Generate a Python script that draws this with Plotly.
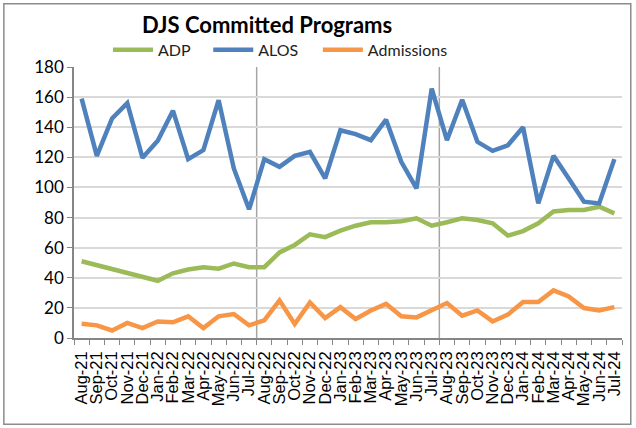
import plotly.graph_objects as go

months = ["Aug-21","Sep-21","Oct-21","Nov-21","Dec-21","Jan-22","Feb-22","Mar-22","Apr-22","May-22","Jun-22","Jul-22",
          "Aug-22","Sep-22","Oct-22","Nov-22","Dec-22","Jan-23","Feb-23","Mar-23","Apr-23","May-23","Jun-23","Jul-23",
          "Aug-23","Sep-23","Oct-23","Nov-23","Dec-23","Jan-24","Feb-24","Mar-24","Apr-24","May-24","Jun-24","Jul-24"]

adp = [51, 48.5, 46, 43, 40.5, 38, 43, 45.5, 47, 46, 49.5, 47,
       47, 56.8, 61.8, 68.9, 67, 71.3, 74.6, 76.9, 76.9, 77.5, 79.5, 74.6,
       76.9, 79.5, 78.4, 76.2, 68, 71, 76.2, 84, 85, 85, 87.2, 82.8]

alos = [159, 121, 145.8, 156, 119.7, 131, 151, 118.8, 124.8, 158, 112.6, 85.5,
        118.8, 113.7, 121, 123.7, 106, 138, 135.4, 131.4, 145, 117, 99.4, 165.6,
        131.4, 158.3, 130.3, 124.3, 128, 140, 89.4, 121, 106, 90.5, 89.4, 118.8]

admissions = [9.5, 8.4, 5, 10, 6.6, 11, 10.4, 14.4, 6.6, 14.4, 15.9, 8.4,
              11.7, 25, 9.3, 23.6, 13.3, 20.5, 12.6, 18.3, 22.7, 14.4, 13.7, 18.8,
              23.2, 14.8, 18.3, 11, 15.5, 23.9, 23.9, 31.6, 27.6, 19.9, 18.3, 20.5]

y_ticks = [0, 20, 40, 60, 80, 100, 120, 140, 160, 180]

series = [("ADP", adp, "#9BBB59", "legend"),
          ("ALOS", alos, "#4F81BD", "legend2"),
          ("Admissions", admissions, "#F79646", "legend3")]

fig = go.Figure()
for name, vals, color, leg in series:
    fig.add_trace(go.Scatter(x=months, y=vals, name=name, mode="lines", legend=leg,
                             line=dict(color=color, width=4.5)))

# vertical year separators at category boundaries
for b in (11.5, 23.5):
    fig.add_shape(type="line", xref="x", yref="paper", x0=b, x1=b, y0=0, y1=1,
                  line=dict(color="#A6A6A6", width=1.5), layer="below")

# outer chart border
fig.add_shape(type="rect", xref="paper", yref="paper", x0=-0.128, x1=1.016, y0=-0.318, y1=1.233,
              line=dict(color="#8C8C8C", width=1.5))

leg_style = dict(orientation="h", xanchor="left", y=1.063, yanchor="middle",
                 font=dict(family="Lato", size=16, color="#222"), itemwidth=40,
                 bgcolor="rgba(0,0,0,0)")

fig.update_layout(
    width=636, height=428,
    margin=dict(l=74, r=14, t=67, b=90, autoexpand=False),
    paper_bgcolor="white", plot_bgcolor="white",
    title=dict(text="<b>DJS Committed Programs</b>", x=0.42, xanchor="center", y=0.94, yanchor="middle",
               font=dict(family="Lato", size=22, color="black"), automargin=False),
    legend=dict(x=0.062, **leg_style),
    legend2=dict(x=0.245, **leg_style),
    legend3=dict(x=0.445, **leg_style),
    showlegend=True,
)
fig.update_xaxes(type="category", tickmode="array", tickvals=months, ticktext=months,
                 tickson="boundaries", ticks="outside", ticklen=5, tickcolor="#868686",
                 showline=True, linecolor="#868686", linewidth=1.5, showgrid=False,
                 tickangle=-90, tickfont=dict(family="Liberation Sans", size=16.5, color="black"),
                 ticklabelstandoff=5,
                 range=[-0.5, len(months) - 0.5], automargin=False)
fig.update_yaxes(range=[0, 180], tickvals=y_ticks, ticks="outside", ticklen=5, tickcolor="#868686",
                 showline=True, linecolor="#868686", linewidth=1.5,
                 showgrid=True, gridcolor="#D9D9D9", gridwidth=1.5,
                 tickfont=dict(family="Lato", size=17, color="black"), zeroline=False, automargin=False)

fig.write_html("out.html", config={"displayModeBar": False},
               post_script="document.body.style.margin='0';document.body.style.overflow='hidden';")
